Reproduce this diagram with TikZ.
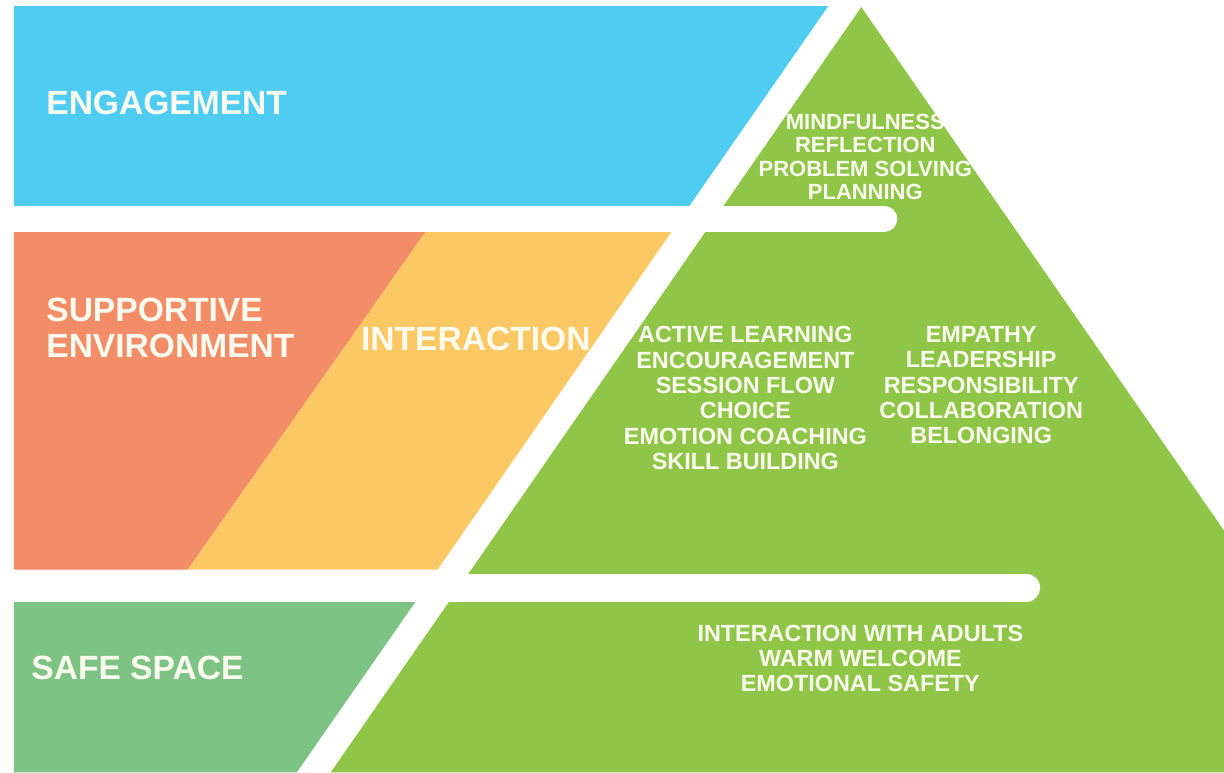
\documentclass[tikz,border=0pt]{standalone}
\usepackage{fontspec}
\setmainfont{Liberation Sans}
\usepackage{tikz}

\definecolor{engagecol}{HTML}{4ECCF2}
\definecolor{supportcol}{HTML}{F28D68}
\definecolor{interactcol}{HTML}{FCC864}
\definecolor{safecol}{HTML}{7DC383}
\definecolor{pyramidcol}{HTML}{8FC648}
\definecolor{textcol}{HTML}{FAFBEE}

\begin{document}
\begin{tikzpicture}[x=0.5pt,y=-0.5pt]
	\tikzstyle{band}=[white,line width=13pt,line cap=round]
	\tikzstyle{heading}=[text=textcol,font=\bfseries\fontsize{16.8}{18}\selectfont,anchor=west,align=left,inner sep=0pt]
	\tikzstyle{skills}=[text=textcol,font=\bfseries\fontsize{11.7}{12.7}\selectfont,align=center,inner sep=0pt]
	\fill[white] (0,0) rectangle (1224,773);
	% left tiers
	\fill[engagecol] (13,6) -- (828,6) -- (689,206) -- (13,206) -- cycle;
	\fill[supportcol] (13,232) -- (425,232) -- (187,570) -- (13,570) -- cycle;
	\fill[interactcol] (425,232) -- (671,232) -- (437,570) -- (187,570) -- cycle;
	\fill[safecol] (13,602) -- (415,602) -- (296,773) -- (13,773) -- cycle;
	% pyramid
	\fill[pyramidcol] (861,7) -- (1224,531) -- (1224,773) -- (330,773) -- cycle;
	\draw[band] (13,219) -- (884,219);
	\draw[band,line width=14pt] (13,588) -- (1026,588);
	% tier names
	\node[heading] (engagement) at (45,103.5) {ENGAGEMENT};
	\node[heading] (supportive) at (45,328) {SUPPORTIVE\\ENVIRONMENT};
	\node[heading] (interaction) at (360,339) {INTERACTION};
	\node[heading] (safespace) at (30,668) {SAFE SPACE};
	% pyramid contents
	\node[skills,font=\bfseries\fontsize{11}{11.65}\selectfont] (top) at (865,157) {MINDFULNESS\\REFLECTION\\PROBLEM SOLVING\\PLANNING};
	\node[skills] (midleft) at (745,398.5) {ACTIVE LEARNING\\ENCOURAGEMENT\\SESSION FLOW\\CHOICE\\EMOTION COACHING\\SKILL BUILDING};
	\node[skills] (midright) at (981,385.5) {EMPATHY\\LEADERSHIP\\RESPONSIBILITY\\COLLABORATION\\BELONGING};
	\node[skills,font=\bfseries\fontsize{11.7}{12.5}\selectfont] (base) at (860,659) {INTERACTION WITH ADULTS\\WARM WELCOME\\EMOTIONAL SAFETY};
\end{tikzpicture}
\end{document}
